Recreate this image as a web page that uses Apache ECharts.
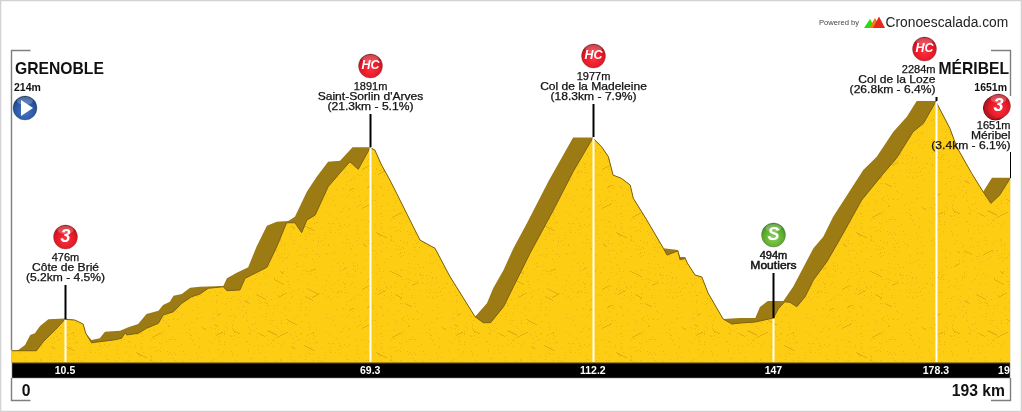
<!DOCTYPE html>
<html><head><meta charset="utf-8">
<style>html,body{margin:0;padding:0;background:#fff}#c{width:1022px;height:412px}</style>
<script src="https://cdn.jsdelivr.net/npm/echarts@6/dist/echarts.min.js"></script>
</head><body><div id="c"></div>
<script>
// Road profile: outer ridge (km, metres)
const ridgeKm=[0.2,1.5,2.8,3.8,4.7,5.7,7.3,10.5,12.4,14.0,14.5,15.6,17.2,18.2,21.1,22.7,24.6,26.2,28.5,29.4,30.7,31.4,33.0,34.6,36.5,41.0,41.7,43.6,45.8,47.4,49.4,51.3,53.5,54.8,57.1,59.0,61.2,63.5,65.9,69.3,70.2,71.5,73.1,74.4,77.6,78.9,81.8,84.0,84.7,89.5,91.8,93.0,95.0,96.9,99.5,103.6,108.4,112.2,113.9,115.2,116.1,117.7,119.4,120.0,122.6,125.8,126.1,128.6,129.0,130.0,130.4,131.9,133.2,134.4,137.3,140.6,143.5,144.4,145.9,148.9,150.8,154.7,156.6,158.5,160.8,164.3,166.9,170.1,172.7,174.6,178.3,181.0,182.3,185.2,187.4,189.1,192.6];
const ridgeM=[208,214,256,339,353,413,469,476,463,430,353,297,311,366,374,403,430,513,541,588,615,665,679,732,740,746,810,856,901,1072,1247,1280,1286,1322,1529,1654,1779,1787,1900,1900,1876,1751,1627,1516,1239,1128,1059,879,823,491,602,727,879,1059,1267,1613,1981,1981,1903,1820,1668,1641,1585,1475,1294,1059,1045,1045,987,987,937,837,821,688,472,480,480,571,621,621,740,1059,1156,1322,1475,1710,1820,2028,2153,2283,2284,2056,1903,1682,1529,1646,1646];
// Front face of the massif (km, metres)
const faceKm=[0.2,5.0,6.3,8.6,10.5,12.4,14.0,14.5,15.6,17.2,19.8,21.4,22.1,22.4,24.6,26.2,28.5,29.4,31.4,33.0,34.9,36.5,38.1,41.0,41.7,44.2,45.2,49.4,51.3,53.2,54.8,56.1,57.1,58.7,61.2,63.5,65.4,67.0,69.3,70.2,71.5,73.1,74.4,77.6,78.9,81.8,84.0,84.7,89.5,91.1,92.5,95.0,96.9,100.1,104.6,108.4,112.2,113.9,115.2,116.1,117.7,119.4,120.0,122.6,125.8,126.5,128.0,128.6,129.0,130.0,130.4,131.9,133.2,134.4,137.3,139.0,140.6,143.5,147.0,148.0,149.2,150.2,151.5,153.1,154.7,157.3,159.9,164.0,168.2,170.7,173.9,175.9,178.3,181.0,182.3,185.2,187.4,188.9,190.6,192.6];
const faceM=[208,208,283,380,469,463,430,353,275,283,297,311,358,339,353,394,436,505,532,602,657,679,727,740,707,713,810,901,1072,1272,1272,1189,1294,1336,1571,1687,1779,1716,1895,1876,1751,1627,1516,1239,1128,1059,879,823,491,441,441,574,740,1018,1377,1696,1976,1903,1820,1668,1641,1585,1475,1294,1059,1003,1028,1037,965,975,937,837,821,688,472,430,438,447,480,561,615,610,574,657,796,948,1142,1460,1682,1807,2028,2098,2279,2056,1903,1682,1529,1433,1502,1641];
// Climbs
const climbKm=[10.5,69.3,112.2,147,178.3,192.6];
const climbM=[476,1891,1977,494,2284,1651];
const climbCat=['3','HC','HC','S','HC','3'];
const climbAlt=['476m','1891m','1977m','494m','2284m','1651m'];
const climbName=['Côte de Brié',"Saint-Sorlin d'Arves",'Col de la Madeleine','Moutiers','Col de la Loze','Méribel'];
const climbStat=['(5.2km - 4.5%)','(21.3km - 5.1%)','(18.3km - 7.9%)','','(26.8km - 6.4%)','(3.4km - 6.1%)'];
// Axis strip
const tickKm=[10.5,69.3,112.2,147,178.3,191.4];
const tickText=['10.5','69.3','112.2','147','178.3','19'];
const startName='GRENOBLE', startAlt='214m', endName='MÉRIBEL', endAlt='1651m', startDist='0', endDist='193 km';

// ---- presentation ----
const SANS='"Liberation Sans",Arial,sans-serif';
const textTop=[-61,-60,-60,-62,-31,-52];   // first text line, px above the ridge
const stemTop=[-34,-33,-33,-45,-4,-26];
const iconDy=[-82,-81,-81,-83,-52,-72];
const iconDx=[0,0,0,0,-12,-12];
const align=['center','center','center','center','right','right'];
const ridgeY=[319,147,137,318,101,178];

function makeTexture(){
  const cv=document.createElement('canvas');cv.width=240;cv.height=120;
  const g=cv.getContext('2d');g.fillStyle='#fdcd14';g.fillRect(0,0,240,120);
  let s=12345;const next=()=>{s=(s*1103515245+12345)&0x7fffffff;return s/0x7fffffff;};
  g.fillStyle='#ecb512';
  for(let i=0;i<900;i++){g.fillRect(Math.floor(next()*240),Math.floor(next()*120),1,1);}
  g.fillStyle='#e5ae10';
  for(let i=0;i<40;i++){
    let x=Math.floor(next()*240),y=Math.floor(next()*120);const n=4+Math.floor(next()*8),d=next()<.5?-1:1;
    for(let k=0;k<n;k++){g.fillRect(x,y,1,1);x+=1;if(k%2==0)y+=d;}
  }
  return cv;
}
function badge(cx,cy,cat,ghost){
  const green=cat==='S';
  const dark=green?'#2f7d16':'#9c0c16', mid=green?'#57a92a':'#e01422', light=green?'#8fd058':'#ff3040';
  const kids=[];
  if(ghost)kids.push({type:'circle',shape:{cx:cx-3,cy:cy+2,r:12},style:{fill:'#c2121c',stroke:'#7a0a10',lineWidth:1}});
  kids.push({type:'circle',shape:{cx,cy,r:12},style:{fill:{type:'radial',x:.5,y:.62,r:.62,colorStops:[{offset:0,color:light},{offset:.7,color:mid},{offset:1,color:dark}]},stroke:'#55505055',lineWidth:1}});
  kids.push({type:'ellipse',shape:{cx,cy:cy-7,rx:8,ry:4},style:{fill:'rgba(255,255,255,.24)'}});
  kids.push({type:'text',x:cx,y:cy,style:{text:cat,fill:'#fff',align:'center',verticalAlign:'middle',font:'italic bold '+(cat==='HC'?12.5:18)+'px '+SANS}});
  return kids;
}
function renderClimb(params,api){
  const i=params.dataIndex,p=api.coord([climbKm[i],climbM[i]]);
  const x=Math.round(p[0])+.5,y=ridgeY[i],base=api.coord([0,106])[1],right=align[i]==='right';
  const tx=right?x-(i===5?0:1):x,kids=[];
  if(i!==5)kids.push({type:'line',shape:{x1:x,y1:y+1,x2:x,y2:base},style:{stroke:'#fff',lineWidth:2}});
  kids.push({type:'line',shape:{x1:x,y1:y+stemTop[i],x2:x,y2:y},style:{stroke:'#000',lineWidth:i===5?1:2}});
  [climbAlt[i],climbName[i],climbStat[i]].forEach((t,k)=>{
    if(t){
      kids.push({type:'text',x:tx,y:y+textTop[i]+k*10,scaleX:k?1.15:1.05,style:{text:t,fill:'#111',stroke:'#111',lineWidth:i===3?.45:.25,align:align[i],verticalAlign:'middle',font:'10.5px '+SANS}});
    }
  });
  badge(x+iconDx[i],y+iconDy[i],climbCat[i],i===5).forEach(k=>kids.push(k));
  return {type:'group',children:kids};
}
const frame=(pts)=>({type:'polyline',shape:{points:pts},style:{stroke:'#7f7f7f',lineWidth:1.4,fill:null},z:6});
const txt=(x,y,text,font,al,fill)=>({type:'text',x,y,style:{text,font:font+' '+SANS,align:al||'left',verticalAlign:'middle',fill:fill||'#111'},z:8});

const chart=echarts.init(document.getElementById('c'),null,{renderer:'canvas'});
chart.setOption({
  animation:false,backgroundColor:'#fff',
  grid:{left:10.5,width:1001.7,top:75,height:288,containLabel:false},
  xAxis:{type:'value',min:0,max:193,z:5,axisLine:{show:false},axisTick:{show:false},splitLine:{show:false},
    axisLabel:{customValues:tickKm,color:'#fff',fontWeight:'bold',fontSize:10.5,fontFamily:SANS,margin:3,
      formatter:v=>tickText[tickKm.indexOf(v)]}},
  yAxis:{type:'value',min:106,max:2500,show:false},
  series:[
    {type:'line',name:'ridge',z:2,symbol:'none',silent:true,data:ridgeKm.map((k,i)=>[k,ridgeM[i]]),
      lineStyle:{width:0},areaStyle:{color:'#9c7a14',opacity:1}},
    {type:'line',name:'face',z:3,symbol:'none',silent:true,data:faceKm.map((k,i)=>[k,faceM[i]]),
      lineStyle:{width:1,color:'#7d6110'},areaStyle:{color:{image:makeTexture(),repeat:'repeat'},opacity:1}},
    {type:'custom',name:'climbs',z:4,silent:true,clip:false,data:climbKm.map((k,i)=>[k,climbM[i]]),renderItem:renderClimb}
  ],
  graphic:{elements:[
    {type:'rect',shape:{x:.5,y:.5,width:1021,height:411},style:{fill:null,stroke:'#d2d2d2',lineWidth:1.5},z:9},
    {type:'rect',shape:{x:12,y:363,width:998,height:15},style:{fill:'#000',stroke:'#888',lineWidth:.6},z:1},
    {type:'line',shape:{x1:12,y1:362.5,x2:1010,y2:362.5},style:{stroke:'#a5861a',lineWidth:1},z:6},
    frame([[30.5,50.5],[11.5,50.5],[11.5,350]]),
    frame([[11.5,378],[11.5,400.5],[30.5,400.5]]),
    frame([[991,50.5],[1010.5,50.5],[1010.5,96]]),
    frame([[1010.5,378],[1010.5,400.5],[991,400.5]]),
    txt(15,70,startName,'bold 15.7px'),
    txt(14,88,startAlt,'bold 10.5px'),
    txt(1009,70,endName,'bold 15.7px','right'),
    txt(1007,88,endAlt,'bold 10.5px','right'),
    txt(26,392,startDist,'bold 15.7px','center'),
    txt(1005,392,endDist,'bold 15.7px','right'),
    {type:'circle',shape:{cx:25,cy:108,r:12},style:{fill:{type:'radial',x:.5,y:.65,r:.65,colorStops:[{offset:0,color:'#4a78c8'},{offset:.7,color:'#24529f'},{offset:1,color:'#122f6b'}]},stroke:'#55505055',lineWidth:1},z:7},
    {type:'ellipse',shape:{cx:25,cy:101,rx:8,ry:4},style:{fill:'rgba(255,255,255,.24)'},z:7},
    {type:'polygon',shape:{points:[[21,100],[21,116],[33,108]]},style:{fill:'#fff'},z:8},
    txt(819,23,'Powered by','7.6px','left','#444'),
    {type:'polygon',shape:{points:[[864,28],[870,19],[875,28]]},style:{fill:'#22e012'},z:8},
    {type:'polygon',shape:{points:[[869,28],[875,18],[881,28]]},style:{fill:'#f07a14'},z:8},
    {type:'polygon',shape:{points:[[873,28],[879,16.5],[885,28]]},style:{fill:'#e8281c'},z:8},
    txt(885.5,23,'Cronoescalada.com','13.8px','left','#222')
  ]}
});
</script></body></html>
